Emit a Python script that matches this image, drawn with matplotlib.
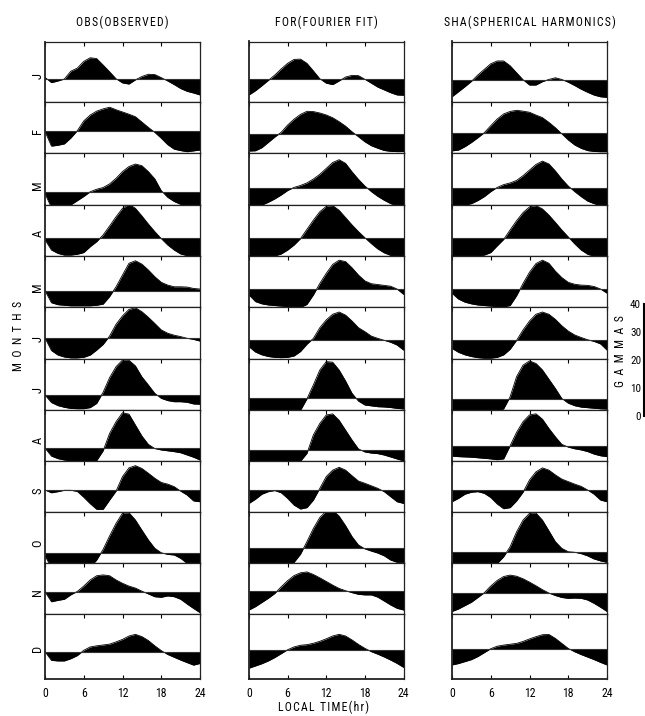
import matplotlib
matplotlib.use("Agg")
import matplotlib.pyplot as plt
from matplotlib import font_manager

# ---------------------------------------------------------------------------
# Hourly Sq variation (gammas, relative to daily mean) by month, 0..24 LT
# ---------------------------------------------------------------------------
hours = list(range(25))
months = ["J", "F", "M", "A", "M", "J", "J", "A", "S", "O", "N", "D"]
column_titles = ["OBS(OBSERVED)", "FOR(FOURIER FIT)", "SHA(SPHERICAL HARMONICS)"]
time_ticks = [0, 6, 12, 18, 24]
gamma_ticks = [0, 10, 20, 30, 40]

# Observed
obs_jan = [0.7, -1.2, -0.6, 0.1, 2.9, 4.0, 6.4, 7.7, 7.4, 5.1, 2.7, 0.2, -1.3, -1.7, -0.2, 1.0, 1.8, 1.7, 0.6, -0.6, -1.9, -3.3, -4.3, -4.9, -5.6]
obs_feb = [-0.2, -5.4, -5.1, -4.6, -2.5, 0.1, 3.6, 5.7, 7.1, 7.9, 8.5, 7.6, 6.8, 6.0, 5.1, 3.2, 1.3, -0.5, -2.6, -4.9, -6.5, -7.0, -7.4, -7.1, -6.8]
obs_mar = [-0.5, -5.5, -6.5, -6.0, -4.5, -3.0, -1.5, 0.2, 1.1, 1.7, 3.0, 5.0, 7.4, 9.2, 10.1, 9.5, 7.4, 4.8, 0.6, -1.8, -3.3, -4.3, -5.0, -5.5, -5.5]
obs_apr = [-0.5, -4.2, -5.4, -6.0, -6.0, -5.7, -5.1, -3.0, -1.2, 1.2, 4.4, 7.7, 10.7, 12.2, 10.7, 8.0, 5.1, 2.4, -0.1, -2.4, -4.2, -5.6, -6.2, -6.5, -6.5]
obs_may = [0.0, -4.3, -5.0, -5.2, -5.4, -5.4, -5.4, -5.4, -5.2, -4.8, -2.1, 1.4, 5.6, 9.8, 10.7, 9.5, 7.4, 5.0, 3.0, 2.0, 1.4, 1.4, 1.3, 0.8, 0.6]
obs_jun = [0.0, -4.5, -6.1, -6.8, -7.1, -7.1, -6.9, -6.1, -4.3, -2.3, 0.7, 4.9, 7.9, 10.2, 10.8, 9.4, 7.4, 5.2, 2.9, 1.7, 1.0, 0.5, -0.1, -0.5, -1.1]
obs_jul = [0.0, -2.7, -3.8, -4.4, -4.8, -4.9, -4.9, -4.5, -3.0, 1.0, 6.2, 10.1, 12.5, 12.4, 10.4, 6.5, 3.6, 0.6, -1.2, -2.0, -2.4, -2.4, -2.6, -3.2, -3.3]
obs_aug = [0.0, -2.9, -3.8, -4.3, -4.6, -4.8, -4.8, -4.8, -4.5, -1.0, 5.2, 9.4, 12.6, 12.1, 8.2, 4.3, 1.3, -0.2, -0.7, -1.0, -1.3, -1.7, -2.5, -3.3, -4.3]
obs_sep = [0.0, -1.0, -0.6, -0.1, -0.1, -0.5, -2.6, -4.9, -6.9, -6.9, -3.6, -0.4, 4.8, 7.9, 8.7, 7.7, 6.0, 4.2, 2.7, 2.1, 1.2, -0.4, -1.8, -3.9, -4.2]
obs_oct = [-1.0, -5.0, -5.5, -5.8, -6.0, -6.0, -5.8, -5.0, -2.4, 1.4, 6.2, 10.7, 14.3, 14.5, 11.9, 8.3, 4.8, 1.8, 0.2, -0.4, -0.6, -1.8, -3.6, -4.0, -4.0]
obs_nov = [0.0, -3.6, -3.1, -2.7, -1.1, 0.1, 2.0, 4.2, 5.7, 6.0, 5.7, 4.2, 3.0, 2.0, 1.3, 0.2, -0.8, -1.8, -2.0, -1.5, -1.8, -2.7, -4.4, -6.0, -7.5]
obs_dec = [0.0, -3.1, -3.3, -3.3, -2.5, -1.4, 0.5, 1.7, 2.1, 2.4, 2.7, 3.5, 4.4, 5.6, 6.2, 5.4, 4.0, 2.1, 0.4, -1.0, -2.0, -3.0, -3.9, -4.8, -4.2]

# Fourier fit
for_jan = [-5.7, -4.2, -2.4, -0.5, 1.4, 3.6, 5.6, 7.0, 7.1, 5.6, 2.9, 0.1, -1.5, -2.0, -0.7, 0.7, 1.3, 1.2, -0.1, -1.5, -2.9, -3.9, -4.9, -5.7, -5.8]
for_feb = [-6.2, -6.1, -5.0, -3.1, -1.2, 0.5, 3.1, 5.2, 6.9, 8.0, 7.9, 7.4, 6.7, 5.7, 4.3, 2.7, 0.7, -1.1, -2.9, -4.3, -5.2, -6.0, -6.3, -6.4, -6.4]
for_mar = [-6.4, -6.4, -6.2, -5.2, -4.0, -2.6, -1.0, 0.1, 0.8, 1.7, 3.1, 4.8, 6.9, 9.0, 10.0, 8.7, 5.7, 3.0, 0.6, -1.4, -3.1, -4.5, -5.7, -6.4, -6.4]
for_apr = [-6.5, -6.7, -6.7, -6.5, -6.3, -5.6, -4.2, -2.4, -0.1, 3.2, 6.5, 9.5, 11.4, 11.7, 10.0, 7.4, 4.8, 2.4, 0.2, -1.9, -3.8, -5.2, -6.1, -6.4, -6.5]
for_may = [-2.0, -4.4, -5.2, -5.6, -5.8, -6.0, -6.2, -6.3, -6.5, -5.4, -2.0, 2.1, 5.7, 8.9, 10.4, 9.9, 7.7, 5.1, 3.0, 2.0, 1.7, 1.4, 1.1, 0.1, -1.8]
for_jun = [-2.3, -4.2, -5.2, -5.8, -6.1, -6.2, -6.1, -5.6, -4.0, -1.4, 0.7, 4.5, 7.3, 9.3, 10.1, 9.0, 6.9, 4.5, 3.1, 1.5, 0.7, 0.0, -0.7, -1.7, -3.5]
for_jul = [-4.0, -4.3, -4.5, -4.6, -4.6, -4.6, -4.6, -4.6, -4.3, -0.2, 4.8, 10.1, 13.1, 12.9, 10.1, 6.2, 1.8, -1.0, -2.4, -2.7, -3.0, -3.1, -3.3, -3.6, -3.8]
for_aug = [-4.0, -4.3, -4.3, -4.3, -4.3, -4.3, -4.3, -4.3, -4.0, -1.2, 5.4, 9.5, 12.5, 12.9, 10.6, 7.1, 3.6, 0.4, -0.7, -1.1, -1.3, -1.8, -2.5, -3.2, -3.9]
for_sep = [-4.8, -3.3, -1.5, -0.6, -0.2, -1.0, -3.0, -5.4, -6.8, -6.3, -3.6, 0.6, 4.8, 7.1, 8.1, 7.1, 5.1, 3.2, 2.4, 1.5, 0.6, -0.6, -2.4, -4.2, -4.8]
for_oct = [-5.0, -5.5, -5.8, -5.9, -5.9, -5.8, -5.5, -5.0, -2.1, 2.4, 7.1, 11.0, 13.3, 13.6, 11.5, 8.1, 4.2, 1.2, -0.2, -1.0, -1.7, -2.7, -4.2, -5.0, -5.0]
for_nov = [-6.9, -5.7, -4.2, -2.7, -1.0, 1.4, 3.6, 5.4, 6.4, 6.7, 5.8, 4.6, 3.3, 2.0, 0.8, 0.0, -0.7, -1.3, -1.5, -1.5, -2.3, -3.7, -5.1, -6.3, -6.9]
for_dec = [-6.5, -5.7, -4.9, -3.9, -2.7, -1.3, 0.1, 1.1, 1.7, 1.9, 2.4, 3.1, 4.0, 5.0, 5.6, 5.0, 3.6, 2.0, 0.6, -0.6, -1.5, -2.5, -3.6, -4.8, -6.2]

# Spherical harmonic analysis
sha_jan = [-6.0, -4.2, -2.4, -0.5, 1.8, 3.8, 5.8, 6.8, 6.8, 5.1, 2.6, 0.1, -1.8, -1.8, -0.6, 0.2, 0.8, 0.2, -0.8, -2.0, -3.3, -4.4, -5.4, -6.0, -6.2]
sha_feb = [-6.5, -6.2, -5.0, -3.5, -1.8, 0.0, 2.5, 4.9, 6.7, 7.6, 8.0, 7.7, 7.3, 6.3, 5.4, 3.7, 1.8, -0.4, -2.6, -4.4, -5.6, -6.4, -6.7, -6.8, -6.8]
sha_mar = [-6.4, -6.4, -6.2, -5.7, -4.6, -3.2, -1.4, 0.1, 1.1, 1.7, 2.6, 4.3, 6.3, 8.3, 9.5, 8.5, 6.0, 3.1, 0.6, -1.4, -3.2, -4.8, -5.7, -6.4, -6.4]
sha_apr = [-6.7, -6.7, -6.7, -6.5, -6.3, -6.0, -5.1, -2.7, -0.4, 3.0, 6.3, 9.2, 11.2, 11.7, 10.5, 8.3, 5.7, 3.0, 0.5, -2.0, -4.2, -5.7, -6.4, -6.7, -6.7]
sha_may = [-1.4, -3.5, -4.6, -5.2, -5.6, -5.8, -6.0, -6.2, -6.3, -5.8, -2.3, 2.1, 6.1, 9.2, 10.4, 9.3, 6.5, 4.2, 2.5, 1.8, 1.5, 1.4, 1.0, 0.1, -1.4]
sha_jun = [-2.9, -4.3, -5.2, -5.8, -6.2, -6.4, -6.4, -6.1, -5.2, -3.2, 0.0, 3.7, 6.9, 9.3, 10.1, 9.3, 7.5, 5.2, 3.3, 1.9, 1.0, 0.2, -0.4, -1.3, -3.5]
sha_jul = [-4.0, -4.3, -4.6, -4.6, -4.6, -4.6, -4.6, -4.6, -3.5, 0.8, 8.0, 12.1, 13.6, 12.7, 10.4, 7.1, 3.8, 0.2, -1.5, -2.4, -2.9, -3.1, -3.3, -3.5, -3.6]
sha_aug = [-3.6, -3.8, -3.9, -4.0, -4.2, -4.4, -4.6, -4.9, -4.6, 0.1, 4.9, 8.7, 11.1, 11.5, 9.6, 6.3, 3.3, 0.6, -0.4, -1.0, -1.4, -2.0, -2.9, -3.5, -3.8]
sha_sep = [-4.2, -3.0, -1.5, -0.8, -0.6, -1.2, -2.7, -5.0, -6.7, -6.3, -3.9, -0.8, 3.6, 6.5, 7.9, 7.1, 5.4, 3.9, 3.0, 2.1, 1.3, 0.0, -1.5, -3.6, -4.2]
sha_oct = [-4.5, -5.0, -5.0, -5.0, -5.0, -5.0, -5.0, -4.2, -1.8, 1.8, 7.1, 11.3, 13.7, 13.8, 11.3, 7.5, 3.6, 1.2, 0.0, -0.2, -0.7, -1.5, -2.6, -3.3, -3.8]
sha_nov = [-6.5, -5.6, -4.4, -3.2, -1.5, 0.2, 2.6, 4.6, 6.0, 6.5, 6.1, 5.2, 4.0, 2.7, 1.3, 0.1, -0.8, -1.5, -1.8, -1.7, -1.8, -2.4, -3.6, -5.0, -6.5]
sha_dec = [-5.7, -5.2, -4.5, -3.8, -2.7, -1.3, 0.1, 1.0, 1.4, 1.7, 2.0, 2.7, 3.6, 4.4, 5.1, 5.2, 3.8, 2.0, 0.2, -1.0, -2.0, -2.9, -3.8, -4.8, -5.7]

obs_series = [obs_jan, obs_feb, obs_mar, obs_apr, obs_may, obs_jun,
              obs_jul, obs_aug, obs_sep, obs_oct, obs_nov, obs_dec]
for_series = [for_jan, for_feb, for_mar, for_apr, for_may, for_jun,
              for_jul, for_aug, for_sep, for_oct, for_nov, for_dec]
sha_series = [sha_jan, sha_feb, sha_mar, sha_apr, sha_may, sha_jun,
              sha_jul, sha_aug, sha_sep, sha_oct, sha_nov, sha_dec]
columns = [obs_series, for_series, sha_series]

# ---------------------------------------------------------------------------
# Layout (figure pixels)
# ---------------------------------------------------------------------------
W, H = 645, 716
PX_PER_GAMMA = 2.8
col_x = [(45, 200), (249, 403.5), (452, 607)]
row_edges = [41.5, 101.7, 153, 205, 256, 307, 359, 410, 461, 511.5, 563, 613.5, 679]
baselines = [
    [79.3, 131, 192.3, 238.3, 290.7, 338, 395, 448, 490, 553.3, 591.7, 651.7],
    [79, 133.7, 187.7, 238.3, 289.3, 340.3, 398.3, 450, 490, 548.3, 590.7, 650],
    [80, 132.7, 187.7, 238.3, 289.3, 340.3, 399, 446, 490, 551.7, 593.3, 649],
]
month_label_y = [76, 131, 185, 233, 287, 339, 390, 440, 491, 543, 592, 648]


def pick_font(candidates):
    names = {f.name for f in font_manager.fontManager.ttflist}
    for c in candidates:
        if c in names:
            return c
    return "DejaVu Sans"


FONT = pick_font(["Liberation Sans Narrow", "Roboto Condensed", "DejaVu Sans"])
plt.rcParams["font.family"] = [FONT, "DejaVu Sans"]


def spaced(text, gap="\u200a"):
    return gap.join(text)


def rect(x0, x1, y0, y1):
    return [x0 / W, 1 - y1 / H, (x1 - x0) / W, (y1 - y0) / H]


fig = plt.figure(figsize=(W / 100, H / 100), dpi=100)
fig.patch.set_facecolor("white")

for ci, series in enumerate(columns):
    x0, x1 = col_x[ci]
    for ri, vals in enumerate(series):
        top, bot = row_edges[ri], row_edges[ri + 1]
        base = baselines[ci][ri]
        ax = fig.add_axes(rect(x0, x1, top, bot))
        ax.fill_between(hours, vals, 0, color="black", lw=0)
        ax.plot(hours, vals, color="black", lw=0.6)
        ax.axhline(0, color="#333333", lw=0.8)
        ax.set_xlim(0, 24)
        ax.set_ylim(-(bot - base) / PX_PER_GAMMA, (base - top) / PX_PER_GAMMA)
        ax.set_yticks([])
        ax.set_xticks(time_ticks)
        last = ri == len(series) - 1
        ax.tick_params(axis="x", direction="in", length=3, width=0.8,
                       top=True, bottom=last, labelbottom=last,
                       labelsize=8.5, pad=6)
        for s in ax.spines.values():
            s.set_linewidth(0.9)
            s.set_color("#222222")
        ax.spines["left"].set_linewidth(1.3)
        if last:
            ax.spines["bottom"].set_linewidth(1.3)
        if ci == 0:
            fig.text(38 / W, 1 - month_label_y[ri] / H, months[ri],
                     rotation=90, ha="center", va="center", fontsize=9)
    fig.text(((x0 + x1) / 2) / W, 1 - 22 / H, spaced(column_titles[ci]),
             ha="center", va="center", fontsize=8.5)

# Axis captions
fig.text(18 / W, 1 - 336 / H, spaced("MONTHS", "  "), rotation=90,
         ha="center", va="center", fontsize=8.5)
fig.text(324 / W, 1 - 707 / H, spaced("LOCAL") + "  " + spaced("TIME(hr)"),
         ha="center", va="center", fontsize=8.5)

# Gamma scale bar
sb_bottom = 416
sb_top = sb_bottom - 40 * PX_PER_GAMMA
sax = fig.add_axes(rect(642.5, 644, sb_top, sb_bottom))
sax.set_ylim(0, 40)
sax.set_xlim(0, 1)
sax.set_xticks([])
sax.set_yticks(gamma_ticks)
sax.tick_params(axis="y", length=0, labelsize=8, pad=1)
for side in ["top", "bottom", "left"]:
    sax.spines[side].set_visible(False)
sax.spines["right"].set_linewidth(1.5)
sax.patch.set_alpha(0)
fig.text(620 / W, 1 - 351 / H, spaced("GAMMAS", "  "), rotation=90,
         ha="center", va="center", fontsize=8.5)

fig.savefig("out.png", dpi=100, facecolor="white")
